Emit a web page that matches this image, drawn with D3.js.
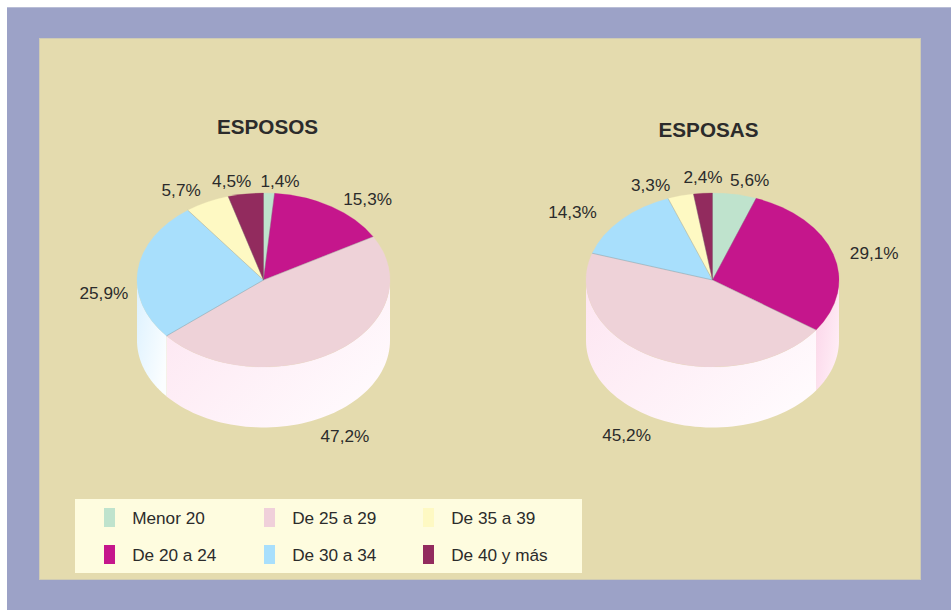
<!DOCTYPE html>
<html><head><meta charset="utf-8">
<script src="https://cdn.jsdelivr.net/npm/d3@7/dist/d3.min.js"></script>
<style>html,body{margin:0;padding:0;background:#fff}svg{display:block}text{font-family:"Liberation Sans",Arial,sans-serif;fill:#2b2b2b}</style>
</head><body><div id="chart"></div>
<script>
const categories=["Menor 20","De 20 a 24","De 25 a 29","De 30 a 34","De 35 a 39","De 40 y más"];
const esposos=[1.4,15.3,47.2,25.9,5.7,4.5];
const esposas=[5.6,29.1,45.2,14.3,3.3,2.4];
const titles=["ESPOSOS","ESPOSAS"];
const colors=["#bfe3cd","#c5168c","#eed2d8","#a8dffc","#fef9c3","#922b5e"];

// layout, kept apart from the data
const W=951,H=610,rx=126.5,ry=87,depth=60.5,cy=280;
const centers=[263.5,712.5];
const titleX=[267.5,708.5];
const labelNudge=[
 [[11,-12],[36,-8],[9,24],[-34,23],[-26,-12],[-14,-13]],
 [[15,-14],[41,-1],[-29.5,17],[-48.5,-8],[-30,-11],[0,-16]]
];
const sideStops={
 2:["#fde5f1","#fffafd"],
 3:["#dcf1ff","#fbfeff"],
 1:["#fbd3e8","#ffeef6"]
};

const svg=d3.select("#chart").append("svg").attr("width",W).attr("height",H);
svg.append("rect").attr("x",7).attr("y",7).attr("width",W-7).attr("height",H-7).attr("fill","#9ca2c7");
svg.append("rect").attr("x",7).attr("y",7).attr("width",W-7).attr("height",1).attr("fill","#b9bdd6");
svg.append("rect").attr("x",39.5).attr("y",38.5).attr("width",881).attr("height",541)
  .attr("fill","#e4dbae").attr("stroke","#cfcbb4").attr("stroke-width",1);

const defs=svg.append("defs");
Object.keys(sideStops).forEach(k=>{
  const g=defs.append("linearGradient").attr("id","side"+k)
    .attr("x1","0").attr("y1","0").attr("x2","1").attr("y2","0.7");
  g.append("stop").attr("offset","0").attr("stop-color",sideStops[k][0]);
  g.append("stop").attr("offset","1").attr("stop-color",sideStops[k][1]);
});

const pie=d3.pie().sort(null).value(d=>d);
const arc=d3.arc().innerRadius(0).outerRadius(rx);
const rim=a=>[Math.sin(a)*rx,-Math.cos(a)*ry];

[esposos,esposas].forEach((vals,pi)=>{
  const g=svg.append("g").attr("transform",`translate(${centers[pi]},${cy})`);
  const arcs=pie(vals);

  // front wall of the cylinder
  arcs.forEach((d,i)=>{
    const a0=Math.max(d.startAngle,Math.PI/2),a1=Math.min(d.endAngle,3*Math.PI/2);
    if(a1<=a0)return;
    const steps=d3.range(0,61).map(k=>a0+(a1-a0)*k/60);
    const top=steps.map(rim);
    const bottom=steps.slice().reverse().map(a=>{const p=rim(a);return [p[0],p[1]+depth];});
    g.append("path").attr("d",d3.line()(top.concat(bottom))+"Z")
      .attr("fill",`url(#side${i})`);
  });

  // top face
  g.append("g").attr("transform",`scale(1,${ry/rx})`)
    .selectAll("path").data(arcs).join("path")
    .attr("d",arc).attr("fill",(d,i)=>colors[i])
    .attr("stroke",(d,i)=>colors[i]).attr("stroke-width",0.3);

  // thin spokes between slices
  g.selectAll("line.spoke").data(arcs).join("line").attr("class","spoke")
    .attr("x1",0).attr("y1",0)
    .attr("x2",d=>rim(d.startAngle)[0]).attr("y2",d=>rim(d.startAngle)[1])
    .attr("stroke","#6f7a80").attr("stroke-opacity",0.45).attr("stroke-width",0.7);

  // labels
  g.selectAll("text.val").data(arcs).join("text").attr("class","val")
    .attr("text-anchor","middle").attr("font-size",17.2)
    .attr("x",(d,i)=>rim((d.startAngle+d.endAngle)/2)[0]+labelNudge[pi][i][0])
    .attr("y",(d,i)=>{
      const mid=(d.startAngle+d.endAngle)/2;
      const base=rim(mid)[1]+(Math.cos(mid)<0?depth:0);
      return base+labelNudge[pi][i][1]+6;
    })
    .text(d=>d.value.toFixed(1).replace(".",",")+"%");

  svg.append("text").attr("x",titleX[pi]).attr("y",pi===0?134:137)
    .attr("text-anchor","middle").attr("font-size",20.7).attr("font-weight","bold")
    .text(titles[pi]);
});

// legend
svg.append("rect").attr("x",75).attr("y",499).attr("width",507).attr("height",74).attr("fill","#fefcdf");
const colX=d3.scaleOrdinal().domain([0,1,2]).range([104,264,423]);
const rowY=d3.scaleOrdinal().domain([0,1]).range([508,545]);
const legend=svg.append("g").selectAll("g").data(categories).join("g")
  .attr("transform",(d,i)=>`translate(${colX(Math.floor(i/2))},${rowY(i%2)})`);
legend.append("rect").attr("width",11).attr("height",19).attr("fill",(d,i)=>i===2?"#f0d0da":colors[i]);
legend.append("text").attr("x",28.2).attr("y",16).attr("font-size",17.2).text(d=>d);
</script></body></html>
